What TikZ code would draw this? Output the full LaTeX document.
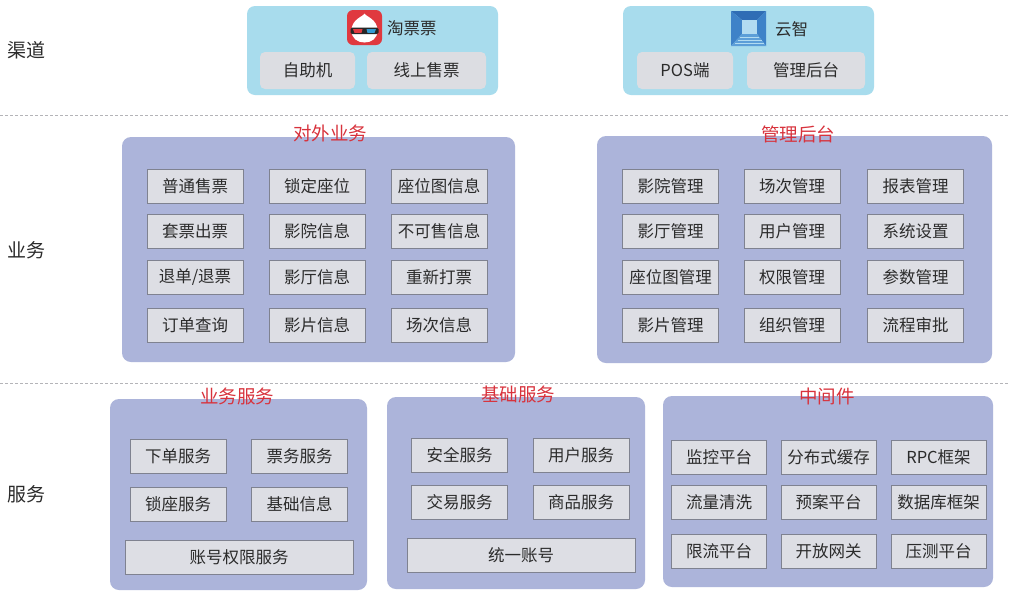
\documentclass[tikz,border=0pt]{standalone}
\usepackage{fontspec}
\setmainfont{Noto Sans CJK SC}
\usetikzlibrary{positioning}
\definecolor{lav}{HTML}{ACB4DA}
\definecolor{itemfill}{HTML}{DDDEE4}
\definecolor{itemline}{HTML}{7F8290}
\definecolor{chanbg}{HTML}{A8DCED}
\definecolor{chanitem}{HTML}{DCDDE2}
\definecolor{titlered}{HTML}{D8323C}
\definecolor{txt}{HTML}{2B2B2B}
\definecolor{dashc}{HTML}{B4B4B8}
\definecolor{iconred}{HTML}{E0393F}
\definecolor{bluedark}{HTML}{2F6DB5}
\definecolor{bluemid}{HTML}{3E82C8}
\definecolor{bluelow}{HTML}{5C9ED8}
\definecolor{bluelight}{HTML}{B2DBF1}
\tikzset{
  panel/.style={fill=lav, rounded corners=9pt, draw=none},
  chanpanel/.style={fill=chanbg, rounded corners=8pt, draw=none},
  chanbox/.style={fill=chanitem, rounded corners=5pt, draw=none, text=txt,
    font=\fontsize{16.5}{18}\selectfont, inner sep=0pt},
  item/.style={draw=itemline, fill=itemfill, line width=0.6pt, text=txt,
    minimum width=96pt, minimum height=34pt, inner sep=0pt,
    font=\fontsize{16.5}{18}\selectfont},
  wideitem/.style={item, minimum width=228pt},
  ptitle/.style={text=titlered, font=\fontsize{18.5}{20}\selectfont, inner sep=0pt},
  side/.style={text=txt, font=\fontsize{19}{21}\selectfont, inner sep=0pt},
  sep/.style={draw=dashc, dash pattern=on 3pt off 2pt, line width=0.8pt}
}
\begin{document}
\begin{tikzpicture}[x=1pt,y=-1pt]
\useasboundingbox (0,0) rectangle (1010,598);
\fill[white] (0,0) rectangle (1010,598);

% separators
\coordinate (s1a) at (0,115); \coordinate (s1b) at (1010,115);
\coordinate (s2a) at (0,383); \coordinate (s2b) at (1010,383);
\draw[sep] (s1a) -- (s1b);
\draw[sep] (s2a) -- (s2b);

% side labels
\node[side] (lq) at (27,50) {渠道};
\node[side] (ly) at (27,250) {业务};
\node[side] (lf) at (27,494) {服务};

% ===== channels =====
\draw[chanpanel] (247,6) rectangle (498,95);
\draw[chanpanel] (623,6) rectangle (874,95);

\node[chanbox, minimum width=95pt, minimum height=37pt] (zzj) at (307.5,70.5) {自助机};
\node[chanbox, minimum width=119pt, minimum height=37pt] (xsp) at (426.5,70.5) {线上售票};
\node[chanbox, minimum width=96pt, minimum height=37pt] (pos) at (685,70.5) {POS端};
\node[chanbox, minimum width=118pt, minimum height=37pt] (glh) at (806,70.5) {管理后台};

% taopiaopiao icon
\fill[iconred, rounded corners=6pt] (347,10) rectangle (382,45);
\fill[white] (364.5,13.5) .. controls (365.5,16.5) and (377.5,19) .. (377.5,30.5)
  .. controls (377.5,38.5) and (371.5,42.5) .. (364.5,42.5)
  .. controls (357.5,42.5) and (351.5,38.5) .. (351.5,30.5)
  .. controls (351.5,19) and (363.5,16.5) .. (364.5,13.5) -- cycle;
\fill[txt!90!black, rounded corners=1.5pt] (350.5,27.5) rectangle (378.5,34);
\fill[iconred] (353,29) -- (362.5,29) -- (361.5,32.8) -- (354.5,32.8) -- cycle;
\fill[bluemid!80!cyan] (366.5,29) -- (376,29) -- (374.5,32.8) -- (367.5,32.8) -- cycle;
\node[anchor=west, text=txt, font=\fontsize{16.5}{18}\selectfont, inner sep=0pt] (tpp) at (387,28) {淘票票};

% yunzhi icon
\fill[bluedark] (731,11) -- (766,11) -- (757,20) -- (742,20) -- cycle;
\fill[bluemid] (731,11) -- (742,20) -- (742,34) -- (731,46) -- cycle;
\fill[bluemid] (766,11) -- (757,20) -- (757,34) -- (766,46) -- cycle;
\fill[bluelow] (731,46) -- (766,46) -- (757,34) -- (742,34) -- cycle;
\fill[bluelight] (742,20) rectangle (757,34);
\draw[bluelight, line width=0.8pt] (740,37) -- (759,37);
\draw[bluelight, line width=0.8pt] (737.5,40) -- (761.5,40);
\draw[bluelight, line width=0.8pt] (735,43) -- (764,43);
\node[anchor=west, text=txt, font=\fontsize{16.5}{18}\selectfont, inner sep=0pt] (yz) at (775,29) {云智};

% ===== business =====
\draw[panel] (122,137) rectangle (515,362);
\draw[panel] (597,136) rectangle (992,363);
\node[ptitle] (t1) at (330,133) {对外业务};
\node[ptitle] (t2) at (798,134) {管理后台};

\node[item] (a11) at (195,186.5) {普通售票};
\node[item] (a12) at (317,186.5) {锁定座位};
\node[item] (a13) at (439,186.5) {座位图信息};
\node[item] (a21) at (195,231) {套票出票};
\node[item] (a22) at (317,231) {影院信息};
\node[item] (a23) at (439,231) {不可售信息};
\node[item] (a31) at (195,277) {退单/退票};
\node[item] (a32) at (317,277) {影厅信息};
\node[item] (a33) at (439,277) {重新打票};
\node[item] (a41) at (195,325) {订单查询};
\node[item] (a42) at (317,325) {影片信息};
\node[item] (a43) at (439,325) {场次信息};

\node[item] (b11) at (670.5,186.5) {影院管理};
\node[item] (b12) at (792,186.5) {场次管理};
\node[item] (b13) at (915.5,186.5) {报表管理};
\node[item] (b21) at (670.5,231) {影厅管理};
\node[item] (b22) at (792,231) {用户管理};
\node[item] (b23) at (915.5,231) {系统设置};
\node[item] (b31) at (670.5,277) {座位图管理};
\node[item] (b32) at (792,277) {权限管理};
\node[item] (b33) at (915.5,277) {参数管理};
\node[item] (b41) at (670.5,325) {影片管理};
\node[item] (b42) at (792,325) {组织管理};
\node[item] (b43) at (915.5,325) {流程审批};

% ===== services =====
\draw[panel] (110,399) rectangle (367,590);
\draw[panel] (387,397) rectangle (645,589);
\draw[panel] (663,396) rectangle (993,587);
\node[ptitle] (t3) at (237,396) {业务服务};
\node[ptitle] (t4) at (518,394) {基础服务};
\node[ptitle] (t5) at (827,396) {中间件};

\node[item] (c11) at (178,456) {下单服务};
\node[item] (c12) at (299.5,456) {票务服务};
\node[item] (c21) at (178,504.5) {锁座服务};
\node[item] (c22) at (299.5,504.5) {基础信息};
\node[wideitem] (c3) at (239,557) {账号权限服务};

\node[item] (d11) at (459.5,455) {安全服务};
\node[item] (d12) at (581,455) {用户服务};
\node[item] (d21) at (459.5,502.5) {交易服务};
\node[item] (d22) at (581,502.5) {商品服务};
\node[wideitem] (d3) at (521,555.5) {统一账号};

\node[item, minimum width=95pt] (e11) at (719,457) {监控平台};
\node[item, minimum width=95pt] (e12) at (828.5,457) {分布式缓存};
\node[item, minimum width=95pt] (e13) at (938.5,457) {RPC框架};
\node[item, minimum width=95pt] (e21) at (719,502.5) {流量清洗};
\node[item, minimum width=95pt] (e22) at (828.5,502.5) {预案平台};
\node[item, minimum width=95pt] (e23) at (938.5,502.5) {数据库框架};
\node[item, minimum width=95pt] (e31) at (719,551) {限流平台};
\node[item, minimum width=95pt] (e32) at (828.5,551) {开放网关};
\node[item, minimum width=95pt] (e33) at (938.5,551) {压测平台};
\end{tikzpicture}
\end{document}
